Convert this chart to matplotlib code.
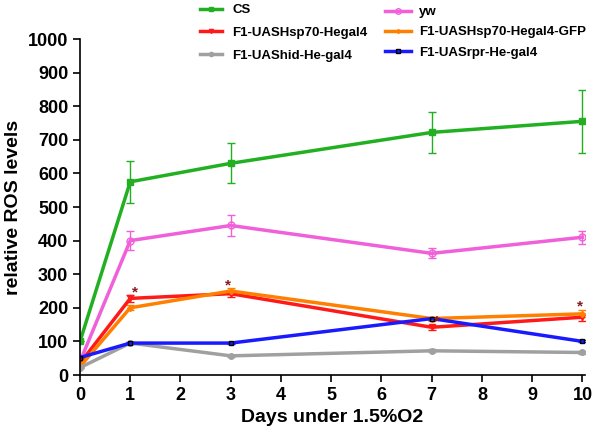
import matplotlib.pyplot as plt
from matplotlib.lines import Line2D

plt.rcParams["font.family"] = ["Liberation Sans", "DejaVu Sans"]
plt.rcParams["font.weight"] = "bold"

days = [0, 1, 3, 7, 10]

cs = [100, 575, 630, 722, 755]
cs_err = [0, 63, 60, 62, 93]
yw = [40, 400, 445, 362, 410]
yw_err = [0, 28, 32, 15, 20]
hsp70 = [35, 228, 242, 142, 172]
hsp70_err = [0, 10, 10, 8, 10]
hsp70_gfp = [25, 200, 250, 168, 182]
hsp70_gfp_err = [0, 8, 8, 6, 10]
hid = [22, 95, 57, 72, 67]
hid_err = [0, 4, 4, 4, 4]
rpr = [52, 95, 95, 168, 100]
rpr_err = [0, 3, 3, 3, 3]

star_x = [1.1, 2.95, 7.1, 9.95]
star_y = [245, 265, 160, 205]

fig = plt.figure(figsize=(6.02, 4.37), dpi=100)
ax = fig.add_axes([80 / 602, 62 / 437, 505 / 602, 336 / 437])

series = [
    ("CS", cs, cs_err, "#22b022", "s", "#22b022", 4),
    ("yw", yw, yw_err, "#f060d8", "o", "none", 5),
    ("F1-UASHsp70-Hegal4", hsp70, hsp70_err, "#ff1a1a", "v", "#ff1a1a", 4),
    ("F1-UASHsp70-Hegal4-GFP", hsp70_gfp, hsp70_gfp_err, "#ff8000", "D", "#ff8000", 3),
    ("F1-UAShid-He-gal4", hid, hid_err, "#a0a0a0", "o", "#a0a0a0", 4),
    ("F1-UASrpr-He-gal4", rpr, rpr_err, "#1a1aff", "s", "none", 3.5),
]

handles = {}
for name, vals, err, col, mk, fc, ms in series:
    ec = "black" if name == "F1-UASrpr-He-gal4" else col
    ax.errorbar(days, vals, yerr=err, color=col, lw=2.5, marker=mk,
                markersize=ms, markerfacecolor=fc, markeredgecolor=ec,
                markeredgewidth=1, capsize=3, elinewidth=1, capthick=1)
    handles[name] = Line2D([], [], color=col, lw=2.5, marker=mk,
                           markersize=ms - 1, markerfacecolor=fc,
                           markeredgecolor=ec)

for sx, sy in zip(star_x, star_y):
    ax.text(sx, sy, "*", color="#8b1a1a", fontsize=11, ha="center", va="center")

ax.set_xlim(0, 10.05)
ax.set_ylim(0, 1000)
ax.set_xticks(range(0, 11))
ax.set_yticks(range(0, 1001, 100))
ax.spines["top"].set_visible(False)
ax.spines["right"].set_visible(False)
ax.spines["left"].set_linewidth(1.2)
ax.spines["bottom"].set_linewidth(1.2)
ax.tick_params(labelsize=13, width=1.2, length=5)
for lbl in ax.get_xticklabels() + ax.get_yticklabels():
    lbl.set_fontweight("bold")
ax.set_xlabel("Days under 1.5%O2", fontsize=14, fontweight="bold")
ax.set_ylabel("relative ROS levels", fontsize=14, fontweight="bold")

left_col = ["CS", "F1-UASHsp70-Hegal4", "F1-UAShid-He-gal4"]
right_col = ["yw", "F1-UASHsp70-Hegal4-GFP", "F1-UASrpr-He-gal4"]
leg_props = {"weight": "bold", "size": 9.5}
fig.legend([handles[n] for n in left_col], left_col, frameon=False,
           loc="upper left", bbox_to_anchor=(200 / 602, 1 - 4 / 437),
           borderpad=0, borderaxespad=0, prop=leg_props,
           handlelength=1.7, handletextpad=0.75, labelspacing=0.8)
fig.legend([handles[n] for n in right_col], right_col, frameon=False,
           loc="upper left", bbox_to_anchor=(385 / 602, 1 - 6 / 437),
           borderpad=0, borderaxespad=0, prop=leg_props,
           handlelength=2.0, handletextpad=0.55, labelspacing=0.6)

fig.savefig("out.png", dpi=100)
